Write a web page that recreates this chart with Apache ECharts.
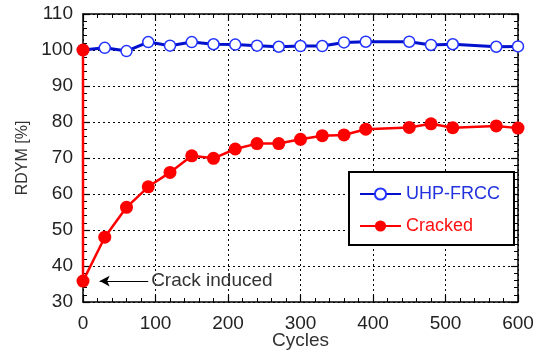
<!DOCTYPE html>
<html>
<head>
<meta charset="utf-8">
<script src="https://cdn.jsdelivr.net/npm/echarts@6/dist/echarts.min.js"></script>
<style>
  html, body { margin: 0; padding: 0; background: #fff; }
  #main { width: 541px; height: 352px; }
</style>
</head>
<body>
<div id="main"></div>
<script>
// cycles and RDYM values
const uhpCycles = [0, 30, 60, 90, 120, 150, 180, 210, 240, 270, 300, 330, 360, 390, 450, 480, 510, 570, 600];
const uhpRdym = [100, 100.6, 99.7, 102.2, 101.2, 102.2, 101.6, 101.5, 101.2, 100.9, 101.1, 101.1, 102.1, 102.3, 102.3, 101.4, 101.6, 100.9, 101.0];
const crackedCycles = [0, 0, 30, 60, 90, 120, 150, 180, 210, 240, 270, 300, 330, 360, 390, 450, 480, 510, 570, 600];
const crackedRdym = [100, 35.8, 48, 56.3, 62.0, 66.0, 70.6, 69.9, 72.5, 74.0, 74.0, 75.2, 76.2, 76.4, 78.0, 78.5, 79.5, 78.4, 78.9, 78.3];
const xTicks = [0, 100, 200, 300, 400, 500, 600];
const yTicks = [30, 40, 50, 60, 70, 80, 90, 100, 110];

const pairs = (xs, ys) => xs.map((x, i) => [x, ys[i]]);

const chart = echarts.init(document.getElementById("main"));

const tickStyle = { inside: true, length: 7, lineStyle: { color: "#000", width: 1.2 } };
const minorStyle = { show: true, splitNumber: 5, length: 4, lineStyle: { color: "#000", width: 1 } };
const frameLine = { show: true, onZero: false, lineStyle: { color: "#000", width: 1.5 } };
const dotted = { show: true, lineStyle: { color: "#000", type: [2, 3], width: 1 } };
const labelFont = { fontFamily: "Liberation Sans, Arial", fontSize: 19, color: "#222" };

chart.setOption({
  animation: false,
  grid: { left: 83, right: 23, top: 14, bottom: 50, outerBoundsMode: "none", containLabel: false },
  legend: {
    orient: "vertical",
    left: 349,
    top: 172,
    padding: [13, 14, 10, 10],
    itemGap: 14,
    itemWidth: 41,
    itemHeight: 14,
    borderColor: "#000",
    borderWidth: 2,
    backgroundColor: "#fff",
    textStyle: { fontFamily: "Liberation Sans, Arial", fontSize: 18 },
    data: [
      { name: "UHP-FRCC", textStyle: { color: "#2233dd" } },
      { name: "Cracked", textStyle: { color: "#ff1010" } }
    ]
  },
  xAxis: [
    {
      type: "value", min: 0, max: 600, interval: 100,
      name: "Cycles", nameLocation: "middle", nameGap: 29, nameMoveOverlap: false,
      nameTextStyle: { fontFamily: "Liberation Sans, Arial", fontSize: 19, color: "#333" },
      axisLine: frameLine, axisTick: tickStyle, minorTick: minorStyle,
      axisLabel: Object.assign({ margin: 12, formatter: v => xTicks.includes(v) ? v : "" }, labelFont),
      splitLine: dotted
    },
    {
      type: "value", min: 0, max: 600, interval: 100, position: "top",
      axisLine: frameLine, axisTick: tickStyle, minorTick: minorStyle,
      axisLabel: { show: false }, splitLine: { show: false }
    }
  ],
  yAxis: [
    {
      type: "value", min: 30, max: 110, interval: 10,
      name: "RDYM [%]", nameLocation: "middle", nameGap: 52,
      nameTextStyle: { fontFamily: "Liberation Sans, Arial", fontSize: 16, color: "#333" },
      axisLine: frameLine, axisTick: tickStyle, minorTick: minorStyle,
      axisLabel: Object.assign({ margin: 10, padding: [5, 0, 0, 0], formatter: v => yTicks.includes(v) ? v : "" }, labelFont),
      splitLine: dotted
    },
    {
      type: "value", min: 30, max: 110, interval: 10, position: "right",
      axisLine: frameLine, axisTick: tickStyle, minorTick: minorStyle,
      axisLabel: { show: false }, splitLine: { show: false }
    }
  ],
  series: [
    {
      name: "UHP-FRCC",
      type: "line",
      data: pairs(uhpCycles, uhpRdym),
      symbol: "circle",
      symbolSize: 11,
      showAllSymbol: true,
      lineStyle: { color: "#0010cc", width: 3 },
      itemStyle: { color: "#fff", borderColor: "#2233ff", borderWidth: 1.5 },
      z: 3
    },
    {
      name: "Cracked",
      type: "line",
      data: pairs(crackedCycles, crackedRdym),
      symbol: "circle",
      symbolSize: 13,
      showAllSymbol: true,
      lineStyle: { color: "#ff0000", width: 2.5 },
      itemStyle: { color: "#ff0000" },
      z: 4,
      markLine: {
        silent: true,
        symbol: ["none", "arrow"],
        symbolSize: [8, 10],
        lineStyle: { color: "#000", width: 1, type: "solid" },
        label: { show: false },
        data: [[{ coord: [90, 35.8] }, { coord: [23, 35.8] }]]
      },
      markPoint: {
        silent: true,
        symbol: "circle",
        symbolSize: 0,
        label: {
          show: true, position: "right", distance: 0,
          formatter: "Crack induced",
          fontFamily: "Liberation Sans, Arial", fontSize: 19, color: "#333"
        },
        data: [{ coord: [94, 35.8] }]
      }
    }
  ]
});
</script>
</body>
</html>
